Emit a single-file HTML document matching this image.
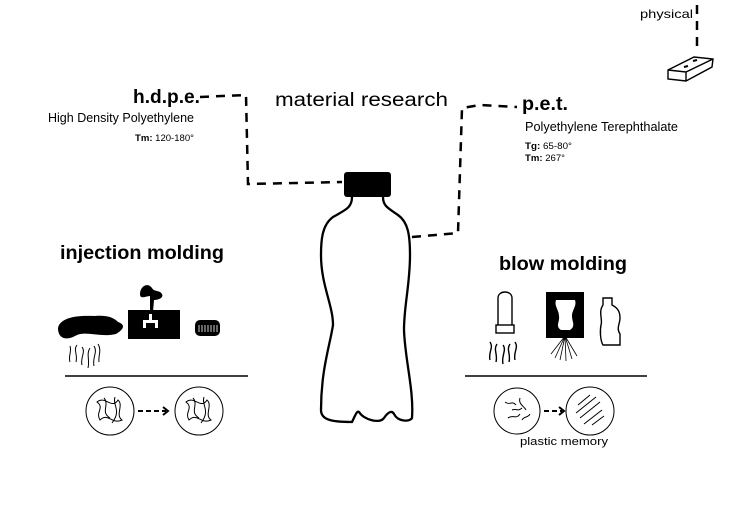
<!DOCTYPE html>
<html><head><meta charset="utf-8"><style>
html,body{margin:0;padding:0;background:#fff;}
svg{display:block;font-family:"Liberation Sans",sans-serif;}
</style></head><body>
<svg width="730" height="516" viewBox="0 0 730 516" xmlns="http://www.w3.org/2000/svg">
<rect width="730" height="516" fill="#fff"/>
<!-- texts -->
<text x="133" y="103" font-size="19" font-weight="bold" textLength="67" lengthAdjust="spacingAndGlyphs">h.d.p.e.</text>
<text x="48" y="122" font-size="12.5" textLength="146" lengthAdjust="spacingAndGlyphs">High Density Polyethylene</text>
<text x="135" y="141" font-size="9" textLength="59" lengthAdjust="spacingAndGlyphs"><tspan font-weight="bold">Tm:</tspan> 120-180°</text>
<text x="275" y="106" font-size="19" textLength="173" lengthAdjust="spacingAndGlyphs">material research</text>
<text x="522" y="110" font-size="19" font-weight="bold" textLength="46" lengthAdjust="spacingAndGlyphs">p.e.t.</text>
<text x="525" y="131" font-size="12.5" textLength="153" lengthAdjust="spacingAndGlyphs">Polyethylene Terephthalate</text>
<text x="525" y="149" font-size="9" textLength="47" lengthAdjust="spacingAndGlyphs"><tspan font-weight="bold">Tg:</tspan> 65-80°</text>
<text x="525" y="161" font-size="9" textLength="40" lengthAdjust="spacingAndGlyphs"><tspan font-weight="bold">Tm:</tspan> 267°</text>
<text x="640" y="18" font-size="12" textLength="53" lengthAdjust="spacingAndGlyphs">physical</text>
<text x="60" y="259" font-size="19" font-weight="bold" textLength="164" lengthAdjust="spacingAndGlyphs">injection molding</text>
<text x="499" y="270" font-size="19" font-weight="bold" textLength="128" lengthAdjust="spacingAndGlyphs">blow molding</text>
<text x="520" y="445" font-size="11" textLength="88" lengthAdjust="spacingAndGlyphs">plastic memory</text>
<!-- dashed connectors -->
<g fill="none" stroke="#000" stroke-width="2.5" stroke-dasharray="9,7">
<path d="M200 97 L246 95 L248 184 L342 182"/>
<path d="M412 237 L458 233 L462 108 L480 105 L517 107"/>
<path d="M697 5 L697 47"/>
</g>
<!-- brick -->
<g fill="none" stroke="#000" stroke-width="1.4">
<path d="M668 70 L694 57 L713 59 L712 67 L686 81 L668 79 Z M668 70 L686 72 L713 59 M686 72 L686 81"/>
<path d="M684 67 l4 -1 M693 61 l4 -1" stroke-width="2"/>
</g>
<!-- bottle -->
<rect x="344" y="172" width="47" height="25" rx="3" fill="#000"/>
<path d="M352 197 C352 208 345 210 333 217 C322 225 321 240 321 255 C321 285 333 305 333 325 C330 345 321 370 321 410 C321 420 332 422 352 422 C355 416 357 410 359 412 C364 420 380 424 384 418 C388 412 392 410 394 414 C398 422 410 422 412 418 C414 390 405 360 404 330 C404 305 410 285 410 255 C410 235 408 222 398 215 C388 208 383 206 383 197" fill="none" stroke="#000" stroke-width="2.3"/>
<!-- injection icons -->
<path d="M58 328 C60 318 75 315 95 316 C108 315 114 318 118 322 C124 324 126 328 116 334 C100 338 85 330 75 336 C68 340 58 340 58 328 Z" fill="#000"/>
<g fill="none" stroke="#000" stroke-width="1"><path d="M70 362 C68 356 72 352 70 346 M76 362 C78 354 73 350 77 345 M82 365 C80 358 86 352 82 347 M88 368 C90 360 86 354 90 348 M94 366 C92 358 98 352 94 346 M99 362 C98 356 102 350 98 344"/></g>
<rect x="128" y="310" width="52" height="29" fill="#000"/>
<path d="M143 320 h6 v-6 h3 v6 h6 v8 h-3 v-5 h-9 v5 h-3 Z" fill="#fff"/>
<path d="M150 312 L150 296 C146 296 140 300 140 294 C140 286 148 282 152 288 C154 292 160 290 162 294 C164 298 158 300 154 300 L153 312 Z" fill="#000"/>
<rect x="195" y="320" width="25" height="16" rx="5" fill="#000"/>
<g stroke="#fff" stroke-width="0.8"><path d="M199 325 v7 M202 325 v7 M205 325 v7 M208 325 v7 M211 325 v7 M214 325 v7 M217 325 v7"/></g>
<!-- blow icons -->
<g fill="none" stroke="#000" stroke-width="1.4">
<path d="M498 325 L498 298 C498 290 512 290 512 298 L512 325"/>
<rect x="496" y="325" width="18" height="8"/>
<path d="M490 360 C488 352 494 348 490 342 M496 362 C498 354 493 350 497 344 M503 364 C501 356 507 350 503 345 M509 362 C511 354 506 350 510 344 M515 360 C513 352 519 348 515 342"/>
<path d="M603 305 L603 298 L612 298 L612 305 C618 308 620 312 620 318 C620 324 616 328 620 334 L620 345 L603 345 C600 340 600 330 601 325 C603 320 598 312 603 305 Z"/>
</g>
<rect x="546" y="292" width="38" height="46" fill="#000"/>
<path d="M556 300 L575 300 C577 306 572 310 572 316 C572 322 576 326 570 330 L561 330 C555 326 560 322 559 316 C559 310 554 306 556 300 Z" fill="#fff"/>
<g fill="none" stroke="#000" stroke-width="0.8"><path d="M565 336 L555 358 M565 336 L560 360 M565 336 L566 361 M565 336 L572 359 M565 336 L577 356 M565 336 L551 354"/></g>
<!-- baselines -->
<path d="M65 376 L248 376 M465 376 L647 376" stroke="#000" stroke-width="1.5"/>
<!-- circles -->
<g fill="none" stroke="#000" stroke-width="1">
<circle cx="110" cy="411" r="24"/><circle cx="199" cy="411" r="24"/>
<circle cx="517" cy="411" r="23"/><circle cx="590" cy="411" r="24"/>
<path d="M97 402 C105 395 112 410 118 400 C124 405 115 415 122 420 C112 425 108 412 100 420 C95 412 105 408 97 402 Z M104 398 C110 405 100 412 110 418 M115 397 C112 405 122 410 112 423"/>
<path d="M186 402 C194 395 201 410 207 400 C213 405 204 415 211 420 C201 425 197 412 189 420 C184 412 194 408 186 402 Z M193 398 C199 405 189 412 199 418 M204 397 C201 405 211 410 201 423"/>
<path d="M505 402 C510 406 512 400 516 405 M520 398 C518 404 524 406 526 410 M508 418 C512 414 516 420 520 414 M522 420 C524 416 528 418 530 414 M512 410 C516 408 518 412 522 408"/>
<path d="M578 405 L590 395 M576 413 L596 397 M580 418 L600 402 M584 424 L602 410 M592 425 L604 416"/>
</g>
<g stroke="#000" stroke-width="2" fill="none">
<path d="M138 411 L166 411" stroke-dasharray="5,3"/><path d="M163 407 L168 411 L163 415"/>
<path d="M544 411 L562 411" stroke-dasharray="5,3"/><path d="M559 407 L564 411 L559 415"/>
</g>
</svg>
</body></html>
